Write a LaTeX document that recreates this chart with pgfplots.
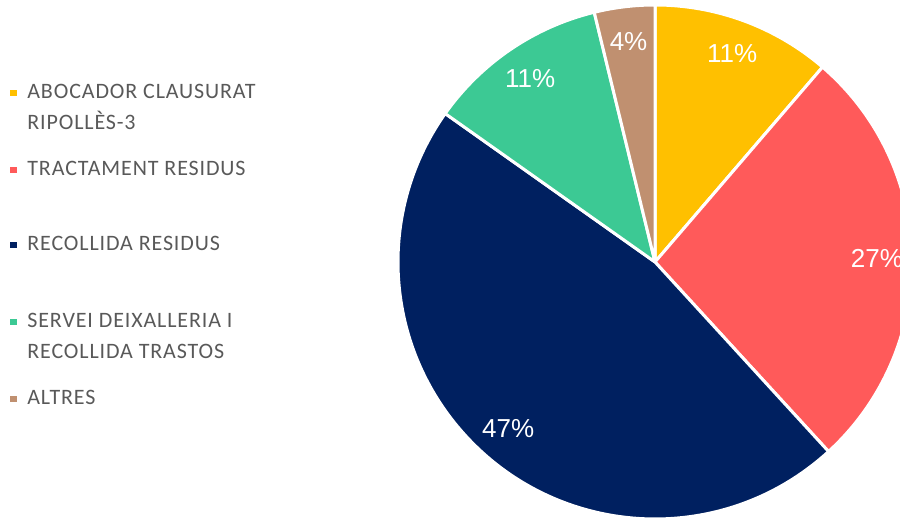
\documentclass[border=0pt]{standalone}
\usepackage{pgfplots}
\pgfplotsset{compat=1.18}
\usepackage{pgfplotstable}
\usepackage{fontspec}
\setmainfont{Liberation Sans}
\newfontfamily\legfont[LetterSpace=4]{Carlito}

\definecolor{cA}{HTML}{FFC000}
\definecolor{cB}{HTML}{FF5A5A}
\definecolor{cC}{HTML}{002060}
\definecolor{cD}{HTML}{3CC994}
\definecolor{cE}{HTML}{C09070}
\definecolor{legtext}{HTML}{595959}

% share in percent, printed label
\pgfplotstableread{
share label
11.3 11
26.9 27
46.6 47
11.4 11
3.8  4
}\piedata

\tikzset{legtxt/.style={anchor=base west, align=left, inner sep=0pt, text=legtext,
  font=\legfont\fontsize{11}{15.5}\selectfont}}

\begin{document}
\begin{tikzpicture}
\begin{axis}[
  width=450pt, height=259pt, scale only axis,
  xmin=0, xmax=900, ymin=0, ymax=518,
  hide axis,
]
\pgfplotsextra{
  \def\acc{0}
  \pgfplotsforeachungrouped \i in {0,...,4}{%
    \pgfplotstablegetelem{\i}{share}\of\piedata
    \let\v=\pgfplotsretval
    \pgfmathsetmacro\a{90-3.6*\acc}
    \pgfmathsetmacro\b{90-3.6*(\acc+\v)}
    \pgfmathsetmacro\m{(\a+\b)/2}
    \pgfmathsetmacro\acc{\acc+\v}
    \pgfplotstablegetelem{\i}{label}\of\piedata
    \let\lab=\pgfplotsretval
    \ifcase\i \def\col{cA}\or \def\col{cB}\or \def\col{cC}\or \def\col{cD}\or \def\col{cE}\fi
    \filldraw[fill=\col, draw=white, line width=1.5pt, line join=round]
      (axis cs:655,256) -- ++(\a:128.5pt)
      arc[start angle=\a, end angle=\b, radius=128.5pt] -- cycle;
    \path (axis cs:655,256) ++(\m:111pt)
      node[text=white, font=\fontsize{13}{15}\selectfont] {\lab\%};
  }
}
% legend (two-line entries are anchored on their last line)
\fill[cA] (axis cs:10,421.5) rectangle (axis cs:17,428);
\node[legtxt] at (axis cs:27,388) {ABOCADOR CLAUSURAT\\RIPOLLÈS-3};
\fill[cB] (axis cs:10,344.5) rectangle (axis cs:17,351);
\node[legtxt] at (axis cs:27,342) {TRACTAMENT RESIDUS};
\fill[cC] (axis cs:10,269.5) rectangle (axis cs:17,276);
\node[legtxt] at (axis cs:27,267) {RECOLLIDA RESIDUS};
\fill[cD] (axis cs:10,192.5) rectangle (axis cs:17,199);
\node[legtxt] at (axis cs:27,159) {SERVEI DEIXALLERIA I\\RECOLLIDA TRASTOS};
\fill[cE] (axis cs:10,115.5) rectangle (axis cs:17,122);
\node[legtxt] at (axis cs:27,113) {ALTRES};
\end{axis}
\pgfresetboundingbox
\path (current axis.south west) rectangle (current axis.north east);
\end{tikzpicture}
\end{document}
